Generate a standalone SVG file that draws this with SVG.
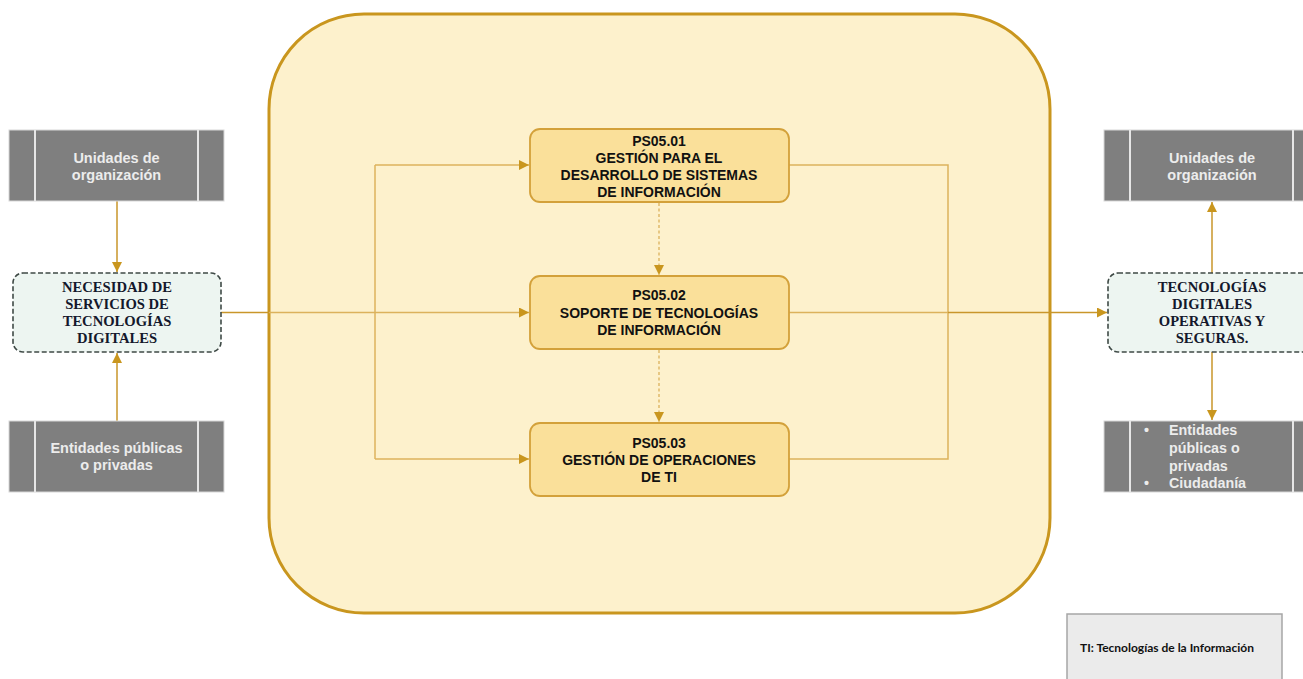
<svg xmlns="http://www.w3.org/2000/svg" width="1303" height="679" viewBox="0 0 1303 679">
<style>
.gray{fill:#7f7f7f;stroke:#d8d8d8;stroke-width:1}
.div{stroke:#e6e6e6;stroke-width:2}
.gt{font-family:"Liberation Sans",Arial,sans-serif;font-weight:bold;font-size:14.5px;fill:#ececec;text-anchor:middle}
.gtl{font-family:"Liberation Sans",Arial,sans-serif;font-weight:bold;font-size:14.3px;fill:#ececec}
.node{fill:#edf5f1;stroke:#3f4a46;stroke-width:1.6;stroke-dasharray:5 2.5}
.nt{font-family:"Liberation Serif","Times New Roman",serif;font-weight:bold;font-size:14.6px;fill:#14182c;text-anchor:middle}
.proc{fill:#fae09a;stroke:#d3a13a;stroke-width:1.8}
.pt{font-family:"Liberation Sans",Arial,sans-serif;font-weight:bold;font-size:14px;fill:#111;text-anchor:middle}
.ln{fill:none;stroke:#c9962a;stroke-width:1.5}
.lnl{fill:none;stroke:#dcb25c;stroke-width:1.5}
.dash{fill:none;stroke:#dcb25c;stroke-width:1.3;stroke-dasharray:3 2.5}
</style>
<defs>
<marker id="ah" markerWidth="10" markerHeight="10" viewBox="0 0 10 10" refX="10" refY="5" orient="auto" markerUnits="userSpaceOnUse">
<path d="M0,0 L10,5 L0,10 z" fill="#c9961e"/>
</marker>
</defs>
<rect width="1303" height="679" fill="#ffffff"/>
<rect id="container" x="269" y="14" width="781" height="599" rx="95" ry="95" fill="#fdf1cc" stroke="#c9961e" stroke-width="3"/>

<g id="connectors">
<line class="ln" x1="117" y1="201" x2="117" y2="272" marker-end="url(#ah)"/>
<line class="ln" x1="117" y1="421" x2="117" y2="353" marker-end="url(#ah)"/>
<line class="ln" x1="221" y1="312.5" x2="269" y2="312.5"/>
<line class="lnl" x1="269" y1="312.5" x2="529" y2="312.5" marker-end="url(#ah)"/>
<polyline class="lnl" points="375,165 375,459"/>
<line class="lnl" x1="375" y1="165" x2="529" y2="165" marker-end="url(#ah)"/>
<line class="lnl" x1="375" y1="459" x2="529" y2="459" marker-end="url(#ah)"/>
<polyline class="lnl" points="789,165 948,165 948,459 789,459"/>
<line class="lnl" x1="789" y1="312.5" x2="948" y2="312.5"/>
<line class="ln" x1="948" y1="312.5" x2="1107" y2="312.5" marker-end="url(#ah)"/>
<line class="dash" x1="659" y1="203" x2="659" y2="275" marker-end="url(#ah)"/>
<line class="dash" x1="659" y1="350" x2="659" y2="422" marker-end="url(#ah)"/>
<line class="ln" x1="1212" y1="273" x2="1212" y2="202" marker-end="url(#ah)"/>
<line class="ln" x1="1212" y1="352" x2="1212" y2="420" marker-end="url(#ah)"/>
</g>

<g id="left-top">
<rect class="gray" x="9" y="130" width="215" height="71"/>
<line class="div" x1="35" y1="130" x2="35" y2="201"/>
<line class="div" x1="198" y1="130" x2="198" y2="201"/>
<text class="gt" x="116.5" y="163">Unidades de</text>
<text class="gt" x="116.5" y="180">organización</text>
</g>

<g id="left-bottom">
<rect class="gray" x="9" y="421" width="215" height="71"/>
<line class="div" x1="35" y1="421" x2="35" y2="492"/>
<line class="div" x1="198" y1="421" x2="198" y2="492"/>
<text class="gt" x="116.5" y="453">Entidades públicas</text>
<text class="gt" x="116.5" y="470">o privadas</text>
</g>

<g id="left-node">
<rect class="node" x="13" y="273" width="208" height="79" rx="10" ry="10"/>
<text class="nt" x="117" y="292">NECESIDAD DE</text>
<text class="nt" x="117" y="309">SERVICIOS DE</text>
<text class="nt" x="117" y="326">TECNOLOGÍAS</text>
<text class="nt" x="117" y="343">DIGITALES</text>
</g>

<g id="ps0501">
<rect class="proc" x="530" y="129" width="259" height="73" rx="10" ry="10"/>
<text class="pt" x="659" y="146">PS05.01</text>
<text class="pt" x="659" y="163">GESTIÓN PARA EL</text>
<text class="pt" x="659" y="180">DESARROLLO DE SISTEMAS</text>
<text class="pt" x="659" y="197">DE INFORMACIÓN</text>
</g>

<g id="ps0502">
<rect class="proc" x="530" y="276" width="259" height="73" rx="10" ry="10"/>
<text class="pt" x="659" y="300">PS05.02</text>
<text class="pt" x="659" y="318">SOPORTE DE TECNOLOGÍAS</text>
<text class="pt" x="659" y="335">DE INFORMACIÓN</text>
</g>

<g id="ps0503">
<rect class="proc" x="530" y="423" width="259" height="73" rx="10" ry="10"/>
<text class="pt" x="659" y="448">PS05.03</text>
<text class="pt" x="659" y="465">GESTIÓN DE OPERACIONES</text>
<text class="pt" x="659" y="482">DE TI</text>
</g>

<g id="right-top">
<rect class="gray" x="1104" y="130" width="215" height="71"/>
<line class="div" x1="1130" y1="130" x2="1130" y2="201"/>
<line class="div" x1="1293" y1="130" x2="1293" y2="201"/>
<text class="gt" x="1212" y="163">Unidades de</text>
<text class="gt" x="1212" y="180">organización</text>
</g>

<g id="right-bottom">
<rect class="gray" x="1104" y="421" width="215" height="71"/>
<line class="div" x1="1130" y1="421" x2="1130" y2="492"/>
<line class="div" x1="1293" y1="421" x2="1293" y2="492"/>
<text class="gtl" x="1144" y="435">•</text>
<text class="gtl" x="1169" y="435">Entidades</text>
<text class="gtl" x="1169" y="453">públicas o</text>
<text class="gtl" x="1169" y="471">privadas</text>
<text class="gtl" x="1144" y="488">•</text>
<text class="gtl" x="1169" y="488">Ciudadanía</text>
</g>

<g id="right-node">
<rect class="node" x="1108" y="273" width="208" height="79" rx="10" ry="10"/>
<text class="nt" x="1212" y="292">TECNOLOGÍAS</text>
<text class="nt" x="1212" y="309">DIGITALES</text>
<text class="nt" x="1212" y="326">OPERATIVAS Y</text>
<text class="nt" x="1212" y="343">SEGURAS.</text>
</g>

<g id="legend">
<rect x="1067" y="614" width="215" height="70" fill="#ebebeb" stroke="#a6a6a6" stroke-width="1.5"/>
<text x="1080" y="652" font-family="Lato,'Open Sans',sans-serif" font-weight="bold" font-size="12px" fill="#111">TI: Tecnologías de la Información</text>
</g>
</svg>
